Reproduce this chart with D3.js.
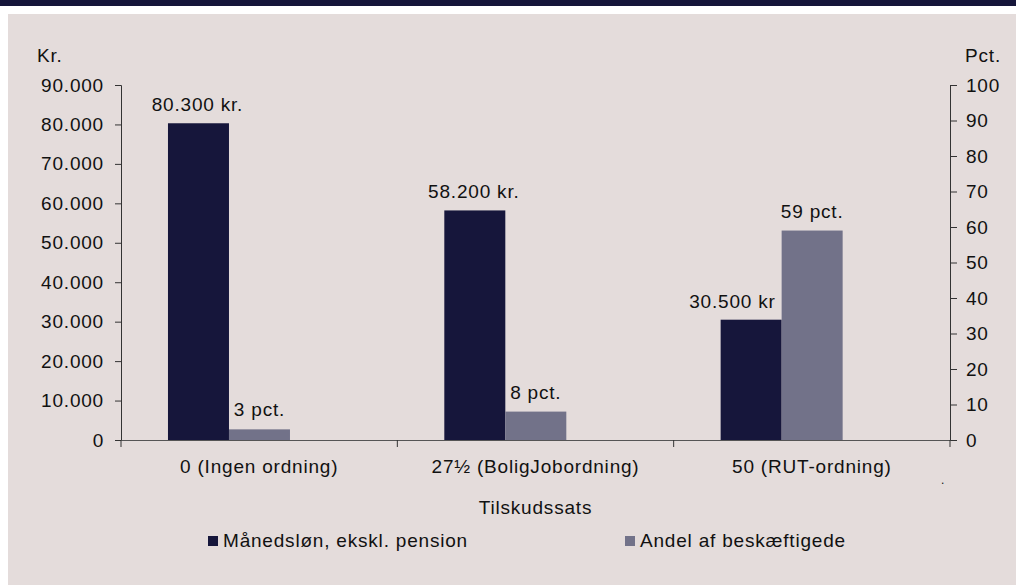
<!DOCTYPE html>
<html>
<head>
<meta charset="utf-8">
<script src="https://cdn.jsdelivr.net/npm/d3@7"></script>
<style>
  body { margin: 0; background: #fff; }
  svg text { font-family: "Liberation Sans", Arial, sans-serif; fill: #111; letter-spacing: 0.8px; }
</style>
</head>
<body>
<div id="chart"></div>
<script>
// data
var categories = ["0 (Ingen ordning)", "27½ (BoligJobordning)", "50 (RUT-ordning)"];
var loen = [80300, 58200, 30500];           // kr., left axis
var andel = [3, 8, 59];                      // pct., right axis
var loenLabels = ["80.300 kr.", "58.200 kr.", "30.500 kr"];
var andelLabels = ["3 pct.", "8 pct.", "59 pct."];
var seriesNames = ["Månedsløn, ekskl. pension", "Andel af beskæftigede"];
var leftTicks = [0, 10000, 20000, 30000, 40000, 50000, 60000, 70000, 80000, 90000];
var rightTicks = [0, 10, 20, 30, 40, 50, 60, 70, 80, 90, 100];

var width = 1016, height = 585;
var colors = ["#16163b", "#727289"];
var bg = "#e4dcdb";
var fs = 19;

var svg = d3.select("#chart").append("svg")
  .attr("width", width)
  .attr("height", height);

// frame
svg.append("rect").attr("x", 0).attr("y", 0).attr("width", width).attr("height", 6).attr("fill", "#15153a");
svg.append("rect").attr("x", 8).attr("y", 14).attr("width", width - 8).attr("height", height - 14).attr("fill", bg);

var plot = {left: 121, right: 950, top: 85, bottom: 440};

var x = d3.scaleBand().domain(categories).range([plot.left, plot.right]).padding(0);
var yL = d3.scaleLinear().domain([0, 90000]).range([plot.bottom, plot.top]);
var yR = d3.scaleLinear().domain([0, 100]).range([plot.bottom, plot.top]);
// bars sit a bit left of the band centre, like the original
var inner = d3.scaleBand().domain([0, 1])
  .range([x.bandwidth() * 0.17, x.bandwidth() * 0.17 + 122]);

var fmt = function(d) { return d3.format(",")(d).replace(/,/g, "."); };

// left axis
var gL = svg.append("g").attr("transform", "translate(" + plot.left + ",0)")
  .call(d3.axisLeft(yL).tickValues(leftTicks).tickFormat(fmt).tickSizeOuter(0).tickSize(6).tickPadding(11));
// right axis
var gR = svg.append("g").attr("transform", "translate(" + plot.right + ",0)")
  .call(d3.axisRight(yR).tickValues(rightTicks).tickSizeOuter(0).tickSize(7).tickPadding(9));
[gL, gR].forEach(function(g) {
  g.select(".domain").attr("stroke", "#333");
  g.selectAll(".tick line").attr("stroke", "#333");
  g.selectAll("text").attr("font-size", fs).attr("fill", "#111")
    .attr("font-family", "'Liberation Sans', Arial, sans-serif");
});

// bars
var groups = svg.selectAll(".cat").data(categories).enter().append("g")
  .attr("transform", function(d) { return "translate(" + x(d) + ",0)"; });

groups.append("rect")
  .attr("x", inner(0)).attr("width", inner.bandwidth())
  .attr("y", function(d, i) { return yL(loen[i]); })
  .attr("height", function(d, i) { return plot.bottom - yL(loen[i]); })
  .attr("fill", colors[0]);

groups.append("rect")
  .attr("x", inner(1)).attr("width", inner.bandwidth())
  .attr("y", function(d, i) { return yR(andel[i]); })
  .attr("height", function(d, i) { return plot.bottom - yR(andel[i]); })
  .attr("fill", colors[1]);

// value labels
groups.append("text")
  .text(function(d, i) { return loenLabels[i]; })
  .attr("text-anchor", function(d, i) { return andel[i] > 30 ? "end" : "middle"; })
  .attr("x", function(d, i) { return andel[i] > 30 ? inner(1) - 6 : inner(0) + inner.bandwidth() / 2 - 1; })
  .attr("y", function(d, i) { return yL(loen[i]) - 12; })
  .attr("font-size", fs);

groups.append("text")
  .text(function(d, i) { return andelLabels[i]; })
  .attr("text-anchor", "middle")
  .attr("x", inner(1) + inner.bandwidth() / 2)
  .attr("y", function(d, i) { return yR(andel[i]) - 13; })
  .attr("font-size", fs);

// x axis
var gX = svg.append("g").attr("transform", "translate(0," + plot.bottom + ")")
  .call(d3.axisBottom(x).tickSize(0).tickPadding(20));
gX.select(".domain").attr("stroke", "#555");
gX.selectAll("text").attr("font-size", fs).attr("fill", "#111")
  .attr("font-family", "'Liberation Sans', Arial, sans-serif");
var bounds = [plot.left].concat(categories.map(function(d) { return x(d) + x.bandwidth(); }));
gX.selectAll(".bnd").data(bounds).enter().append("line")
  .attr("x1", function(d) { return d; }).attr("x2", function(d) { return d; })
  .attr("y1", 0).attr("y2", 7).attr("stroke", "#333");

// axis titles
svg.append("text").text("Kr.").attr("x", 37).attr("y", 62).attr("font-size", fs);
svg.append("text").text("Pct.").attr("x", 1001).attr("y", 62).attr("text-anchor", "end").attr("font-size", fs);
svg.append("text").text("Tilskudssats").attr("x", (plot.left + plot.right) / 2).attr("y", 514)
  .attr("text-anchor", "middle").attr("font-size", fs);
svg.append("text").text(".").attr("x", 941).attr("y", 484).attr("font-size", 12);

// legend
var legendX = [208, 625];
var lg = svg.selectAll(".lg").data(seriesNames).enter().append("g")
  .attr("transform", function(d, i) { return "translate(" + legendX[i] + ",536)"; });
lg.append("rect").attr("width", 10).attr("height", 10).attr("fill", function(d, i) { return colors[i]; });
lg.append("text").text(function(d) { return d; }).attr("x", 15).attr("y", 11).attr("font-size", fs);
</script>
</body>
</html>
